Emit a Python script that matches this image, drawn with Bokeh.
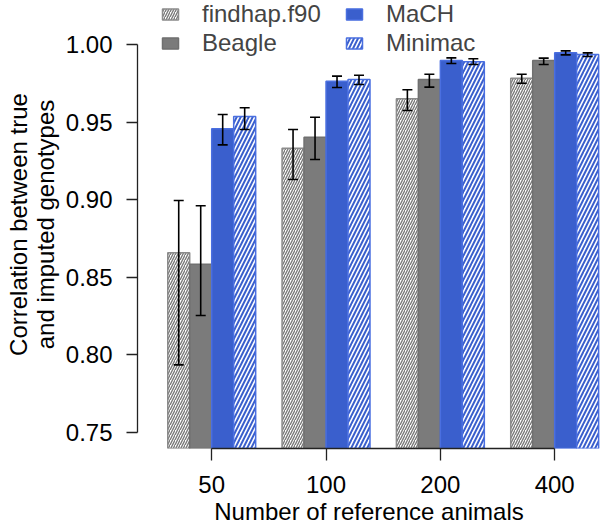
from bokeh.plotting import figure
from bokeh.models import (ColumnDataSource, Whisker, TeeHead, FixedTicker, NumeralTickFormatter,
                          Legend, LegendItem, Range1d)
from bokeh.embed import file_html
from bokeh.resources import INLINE

# ---- data ----
groups = ["50", "100", "200", "400"]
methods = ["findhap.f90", "Beagle", "MaCH", "Minimac"]
findhap = [0.8659, 0.9333, 0.9652, 0.9785]
beagle = [0.8585, 0.9404, 0.9776, 0.9899]
mach = [0.9458, 0.9765, 0.9899, 0.9948]
minimac = [0.9538, 0.9776, 0.9890, 0.9937]
findhap_lo = [0.7936, 0.9131, 0.9576, 0.9752]
findhap_hi = [0.8996, 0.9454, 0.9710, 0.9810]
beagle_lo = [0.8254, 0.9260, 0.9727, 0.9873]
beagle_hi = [0.8962, 0.9533, 0.9810, 0.9914]
mach_lo = [0.9355, 0.9725, 0.9879, 0.9935]
mach_hi = [0.9551, 0.9798, 0.9916, 0.9961]
minimac_lo = [0.9454, 0.9744, 0.9873, 0.9925]
minimac_hi = [0.9594, 0.9804, 0.9910, 0.9948]
y_ticks = [0.75, 0.80, 0.85, 0.90, 0.95, 1.00]

FONT = "Liberation Sans"
BLUE = "#3A5FCD"

bar_w = 1 / 5.2
offsets = [-1.5 * bar_w, -0.5 * bar_w, 0.5 * bar_w, 1.5 * bar_w]
gpos = [i + 1 for i in range(len(groups))]

p = figure(width=600, height=531, output_backend="svg", toolbar_location=None,
           x_range=Range1d(0.351, 4.4007), y_range=Range1d(0.73968, 1.02857),
           min_border_left=137, min_border_right=0, min_border_top=0, min_border_bottom=83)
p.outline_line_color = None
p.xgrid.visible = False
p.ygrid.visible = False
p.background_fill_color = "white"

series = [
    (findhap, findhap_lo, findhap_hi, dict(fill_color="white", line_color="#8c8c8c",
                                           hatch_pattern="/", hatch_color="#7a7a7a",
                                           hatch_scale=5, hatch_weight=1.4)),
    (beagle, beagle_lo, beagle_hi, dict(fill_color="#7b7b7b", line_color="#707070")),
    (mach, mach_lo, mach_hi, dict(fill_color=BLUE, line_color="#4a6fe0")),
    (minimac, minimac_lo, minimac_hi, dict(fill_color="white", line_color="#4a6fe0",
                                           hatch_pattern="/", hatch_color=BLUE,
                                           hatch_scale=8, hatch_weight=2)),
]

renderers = []
for k, (vals, lo, hi, style) in enumerate(series):
    xs = [g + offsets[k] for g in gpos]
    src = ColumnDataSource(dict(x=xs, top=vals, lo=lo, hi=hi))
    r = p.vbar(x="x", top="top", bottom=0.0, width=bar_w, source=src, line_width=1.5, **style)
    renderers.append(r)
    w = Whisker(base="x", lower="lo", upper="hi", source=src, line_color="black", line_width=1.6,
                level="annotation",
                upper_head=TeeHead(size=10, line_width=1.6, line_color="black"),
                lower_head=TeeHead(size=10, line_width=1.6, line_color="black"))
    p.add_layout(w)

# axes
p.xaxis.ticker = FixedTicker(ticks=gpos)
p.xaxis.major_label_overrides = {g: lbl for g, lbl in zip(gpos, groups)}
p.xaxis.bounds = (gpos[0], gpos[-1])
p.xaxis.axis_label = "Number of reference animals"
p.yaxis.ticker = FixedTicker(ticks=y_ticks)
p.yaxis.formatter = NumeralTickFormatter(format="0.00")
p.yaxis.bounds = (y_ticks[0], y_ticks[-1])
p.yaxis.axis_label = "Correlation between true\nand imputed genotypes"

for ax in (p.xaxis[0], p.yaxis[0]):
    ax.axis_line_color = "#222222"
    ax.axis_line_width = 1.3
    ax.major_tick_line_color = "#222222"
    ax.major_tick_line_width = 1.3
    ax.major_tick_in = 0
    ax.minor_tick_line_color = None
    ax.major_label_text_font = FONT
    ax.major_label_text_font_size = "24px"
    ax.major_label_text_color = "black"
    ax.axis_label_text_font = FONT
    ax.axis_label_text_font_size = "24px"
    ax.axis_label_text_font_style = "normal"
    ax.axis_label_text_color = "black"

p.xaxis.major_tick_out = 12
p.xaxis.major_label_standoff = 15
p.xaxis.axis_label_standoff = 2
p.yaxis.major_tick_out = 11
p.yaxis.major_label_standoff = 14
p.yaxis.axis_label_standoff = 4
p.yaxis.axis_label_text_line_height = 1.0

def make_legend(items, loc):
    lg = Legend(items=items, location=loc, padding=0, margin=0, spacing=1,
                glyph_width=20, glyph_height=14, label_standoff=22,
                label_text_font=FONT, label_text_font_size="24px",
                border_line_color=None, background_fill_alpha=0)
    return lg

leg1 = make_legend([LegendItem(label=methods[0], renderers=[renderers[0]]),
                    LegendItem(label=methods[1], renderers=[renderers[1]])], (23, 391))
leg2 = make_legend([LegendItem(label=methods[2], renderers=[renderers[2]]),
                    LegendItem(label=methods[3], renderers=[renderers[3]])], (207, 391))
p.add_layout(leg1)
p.add_layout(leg2)

open("out.html", "w").write(file_html(p, INLINE))
